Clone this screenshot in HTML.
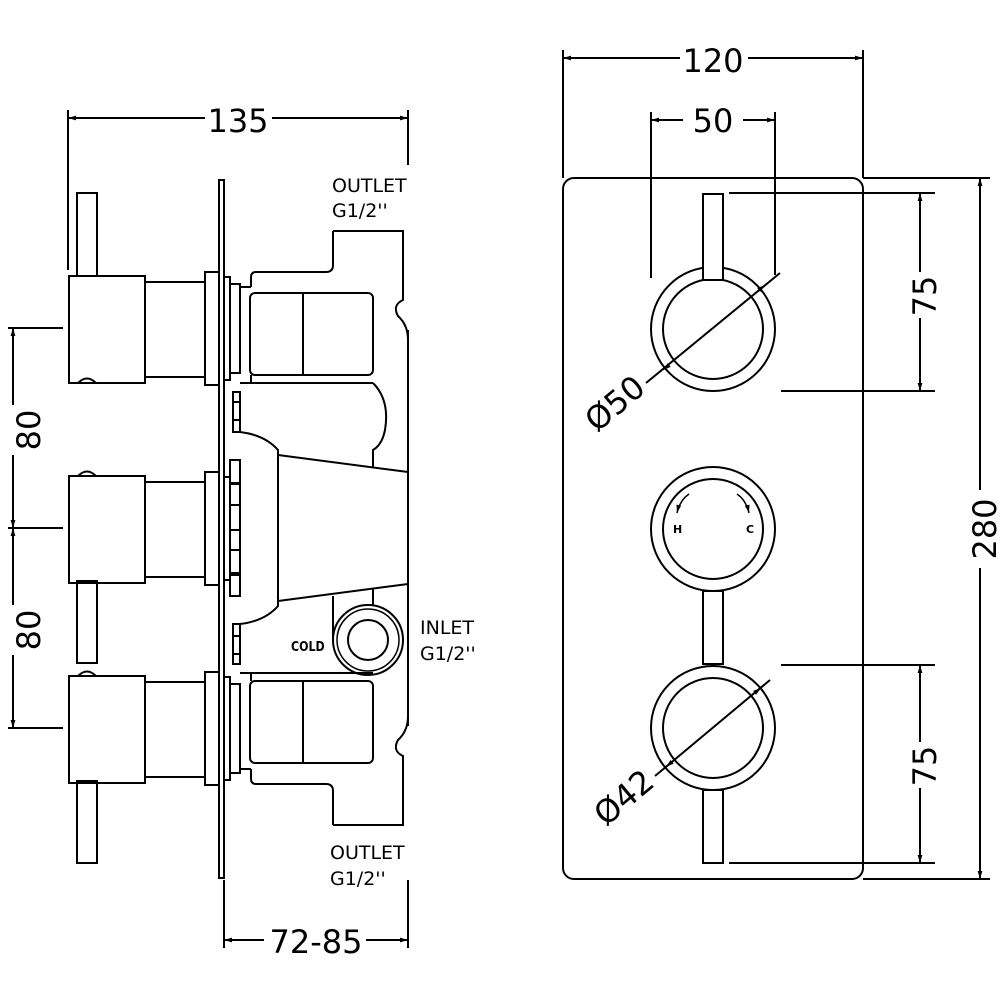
<!DOCTYPE html>
<html><head><meta charset="utf-8"><style>
html,body{margin:0;padding:0;background:#fff}
svg{display:block}
text{font-family:"DejaVu Sans","Liberation Sans",sans-serif;fill:#000}
</style></head><body>
<svg width="1000" height="1000" viewBox="0 0 1000 1000" xmlns="http://www.w3.org/2000/svg">
<defs>
<marker id="ar" viewBox="0 0 10 10" refX="10" refY="5" markerWidth="12" markerHeight="8" orient="auto-start-reverse" markerUnits="userSpaceOnUse">
<path d="M0,2 L10,5 L0,8 z" fill="#000"/></marker>
</defs>
<g fill="none" stroke="#000" stroke-width="2">
<line x1="68" y1="110" x2="68" y2="270"/>
<line x1="408" y1="110" x2="408" y2="165"/>
<line x1="68" y1="118" x2="205" y2="118" marker-start="url(#ar)"/>
<line x1="272" y1="118" x2="408" y2="118" marker-end="url(#ar)"/>
<line x1="8" y1="328" x2="63" y2="328"/>
<line x1="8" y1="528" x2="63" y2="528"/>
<line x1="8" y1="728" x2="63" y2="728"/>
<line x1="13" y1="328" x2="13" y2="405" marker-start="url(#ar)"/>
<line x1="13" y1="455" x2="13" y2="528" marker-end="url(#ar)"/>
<line x1="13" y1="528" x2="13" y2="605" marker-start="url(#ar)"/>
<line x1="13" y1="655" x2="13" y2="728" marker-end="url(#ar)"/>
<line x1="224" y1="880" x2="224" y2="948"/>
<line x1="408" y1="880" x2="408" y2="948"/>
<line x1="224" y1="940" x2="264" y2="940" marker-start="url(#ar)"/>
<line x1="366" y1="940" x2="408" y2="940" marker-end="url(#ar)"/>

<rect x="219" y="180" width="5" height="698"/>
<g id="h">
<rect x="69" y="276" width="76" height="107"/>
<rect x="145" y="282" width="60" height="95"/>
<rect x="205" y="272" width="14" height="113"/>
<rect x="224" y="277" width="6" height="103"/>
<rect x="230" y="284" width="10" height="89"/>
</g>
<use href="#h" y="200"/>
<use href="#h" y="400"/>
<rect x="77" y="193" width="20" height="83"/>
<path d="M78,383 Q87,374 96,383"/>
<rect x="77" y="581" width="20" height="82"/>
<path d="M78,476 Q87,467 96,476"/>
<path d="M78,676 Q87,667 96,676"/>
<rect x="77" y="781" width="20" height="82"/>

<line x1="408" y1="330" x2="408" y2="726"/>
<g id="ub">
<path d="M333,231 L403,231 L403,300 Q392,305 398,316 Q408,325 408,340"/>
<path d="M333,231 L333,265 Q333,272 326,272 L256,272 Q251,272 251,277 L251,287"/>
<path d="M240,287 L251,287"/>
<rect x="250" y="293" width="123" height="82" rx="5"/>
<path d="M303,293 L303,375"/>
<path d="M251,375 L251,383 L373,383"/>
<path d="M240,383 L373,383"/>
<path d="M240,432 Q265,435 278,450 L278,455 L408,472"/>
</g>
<use href="#ub" transform="translate(0,1056) scale(1,-1)"/>
<path d="M373,383 Q390,400 385,430 Q382,445 373,450 L373,468"/>
<rect x="233" y="392" width="7" height="40"/>
<line x1="233" y1="402" x2="240" y2="402"/><line x1="233" y1="420" x2="240" y2="420"/>
<rect x="233" y="624" width="7" height="40"/>
<line x1="233" y1="636" x2="240" y2="636"/><line x1="233" y1="654" x2="240" y2="654"/>
<line x1="278" y1="455" x2="278" y2="601"/>
<rect x="230" y="460" width="10" height="136"/>
<line x1="230" y1="483" x2="240" y2="483"/><line x1="230" y1="505" x2="240" y2="505"/>
<line x1="230" y1="530" x2="240" y2="530"/><line x1="230" y1="550" x2="240" y2="550"/>
<line x1="230" y1="575" x2="240" y2="575"/>
<circle cx="368" cy="640" r="35"/>
<circle cx="368" cy="640" r="31" stroke-width="1.5"/>
<circle cx="368" cy="640" r="20"/>
<line x1="333" y1="596" x2="333" y2="640"/>
<line x1="373" y1="589" x2="373" y2="605"/>

<rect x="563" y="178" width="300" height="701" rx="11"/>
<line x1="563" y1="50" x2="563" y2="178"/>
<line x1="863" y1="50" x2="863" y2="178"/>
<line x1="563" y1="58" x2="680" y2="58" marker-start="url(#ar)"/>
<line x1="748" y1="58" x2="863" y2="58" marker-end="url(#ar)"/>
<line x1="651" y1="112" x2="651" y2="278"/>
<line x1="775" y1="112" x2="775" y2="275"/>
<line x1="651" y1="120" x2="683" y2="120" marker-start="url(#ar)"/>
<line x1="743" y1="120" x2="775" y2="120" marker-end="url(#ar)"/>
<line x1="863" y1="178" x2="990" y2="178"/>
<line x1="863" y1="879" x2="990" y2="879"/>
<line x1="980" y1="178" x2="980" y2="490" marker-start="url(#ar)"/>
<line x1="980" y1="568" x2="980" y2="879" marker-end="url(#ar)"/>
<line x1="729" y1="193" x2="935" y2="193"/>
<line x1="781" y1="391" x2="935" y2="391"/>
<line x1="920" y1="193" x2="920" y2="272" marker-start="url(#ar)"/>
<line x1="920" y1="318" x2="920" y2="391" marker-end="url(#ar)"/>
<line x1="781" y1="665" x2="935" y2="665"/>
<line x1="729" y1="863" x2="935" y2="863"/>
<line x1="920" y1="665" x2="920" y2="742" marker-start="url(#ar)"/>
<line x1="920" y1="788" x2="920" y2="863" marker-end="url(#ar)"/>
<circle cx="713" cy="329" r="62"/><circle cx="713" cy="329" r="50"/>
<rect x="703" y="194" width="20" height="86" fill="#fff"/>
<circle cx="713" cy="529" r="62"/><circle cx="713" cy="529" r="50"/>
<circle cx="713" cy="728" r="62"/><circle cx="713" cy="728" r="50"/>
<rect x="703" y="591" width="20" height="73" fill="#fff"/>
<rect x="703" y="790" width="20" height="73" fill="#fff"/>
<line x1="646" y1="383" x2="780" y2="273"/>
<line x1="668" y1="366" x2="663" y2="370" marker-end="url(#ar)" stroke-width="1"/>
<line x1="760" y1="289" x2="765" y2="285" marker-end="url(#ar)" stroke-width="1"/>
<line x1="655" y1="776" x2="770" y2="680"/>
<line x1="673" y1="761" x2="666" y2="767" marker-end="url(#ar)" stroke-width="1"/>
<line x1="753" y1="694" x2="761" y2="688" marker-end="url(#ar)" stroke-width="1"/>
<path d="M689,494 Q680,500 677,513" marker-end="url(#ar)" stroke-width="1.5"/>
<path d="M737,494 Q746,500 749,513" marker-end="url(#ar)" stroke-width="1.5"/>
</g>

<g font-size="32">
<text x="238" y="132" text-anchor="middle">135</text>
<text x="713" y="72" text-anchor="middle">120</text>
<text x="713" y="132" text-anchor="middle">50</text>
<text x="316" y="953" text-anchor="middle">72-85</text>
<text transform="translate(40,430) rotate(-90)" text-anchor="middle">80</text>
<text transform="translate(40,630) rotate(-90)" text-anchor="middle">80</text>
<text transform="translate(936,296) rotate(-90)" text-anchor="middle">75</text>
<text transform="translate(936,766) rotate(-90)" text-anchor="middle">75</text>
<text transform="translate(996,529) rotate(-90)" text-anchor="middle">280</text>
<text transform="translate(622,412) rotate(-40)" text-anchor="middle">Ø50</text>
<text transform="translate(631,806) rotate(-40)" text-anchor="middle">Ø42</text>
</g>
<g font-size="19">
<text x="332" y="192">OUTLET</text>
<text x="332" y="217">G1/2''</text>
<text x="420" y="634">INLET</text>
<text x="420" y="660">G1/2''</text>
<text x="330" y="859">OUTLET</text>
<text x="330" y="885">G1/2''</text>
</g>
<text x="291" y="651" font-size="13" font-weight="bold" transform="translate(291,651) scale(0.85,1) translate(-291,-651)">COLD</text>
<text x="673" y="533" font-size="11" font-weight="bold">H</text>
<text x="746" y="533" font-size="11" font-weight="bold">C</text>
</svg>
</body></html>
